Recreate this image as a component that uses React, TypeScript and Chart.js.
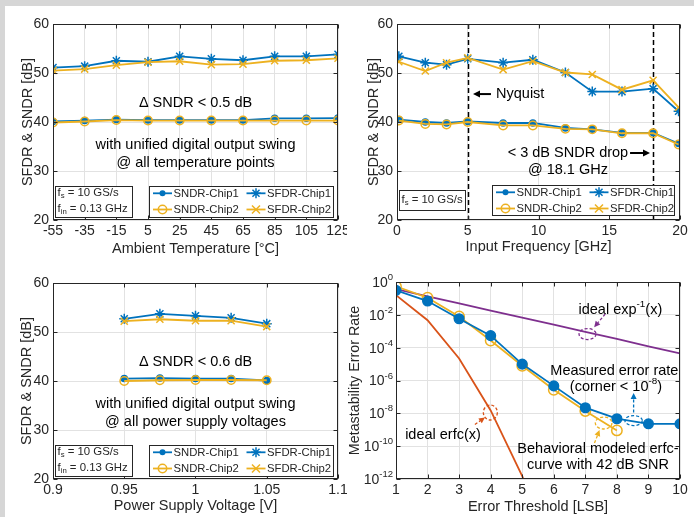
import React, { useEffect, useRef } from 'react';
import { Chart, registerables } from 'chart.js';

Chart.register(...registerables);

// ---------------- data ----------------
const SNR_TICKS = [20, 30, 40, 50, 60];

const TEMP_X = [-55, -35, -15, 5, 25, 45, 65, 85, 105, 125];
const TEMP_TICKS = [-55, -35, -15, 5, 25, 45, 65, 85, 105, 125];
const TEMP_SNDR_CHIP1 = [40.1, 40.3, 40.5, 40.4, 40.4, 40.4, 40.4, 40.75, 40.75, 40.8];
const TEMP_SFDR_CHIP1 = [51.1, 51.4, 52.5, 52.3, 53.4, 52.9, 52.6, 53.4, 53.4, 53.8];
const TEMP_SNDR_CHIP2 = [39.9, 40.1, 40.4, 40.3, 40.3, 40.3, 40.3, 40.3, 40.3, 40.3];
const TEMP_SFDR_CHIP2 = [50.5, 50.8, 51.6, 52.2, 52.4, 51.7, 51.8, 52.5, 52.6, 53.0];

const FREQ_X = [0.13, 2, 3.5, 5, 7.5, 9.6, 11.9, 13.8, 15.9, 18.1, 19.9];
const FREQ_TICKS = [0, 5, 10, 15, 20];
const FREQ_MARKERS = [5, 18.1];
const FREQ_SNDR_CHIP1 = [40.5, 40.0, 39.8, 40.1, 39.8, 39.8, 38.8, 38.5, 37.8, 37.8, 35.6];
const FREQ_SFDR_CHIP1 = [53.4, 52.1, 51.7, 52.9, 52.1, 52.7, 50.1, 46.2, 46.2, 46.8, 42.2];
const FREQ_SNDR_CHIP2 = [40.3, 39.6, 39.5, 40.0, 39.3, 39.3, 38.6, 38.5, 37.7, 37.7, 35.4];
const FREQ_SFDR_CHIP2 = [52.3, 50.4, 52.1, 53.1, 50.7, 52.4, 50.1, 49.7, 46.6, 48.5, 43.0];

const VDD_X = [0.95, 0.975, 1.0, 1.025, 1.05];
const VDD_TICKS = [0.9, 0.95, 1, 1.05, 1.1];
const VDD_SNDR_CHIP1 = [40.5, 40.6, 40.5, 40.5, 40.1];
const VDD_SFDR_CHIP1 = [52.7, 53.7, 53.3, 52.9, 51.7];
const VDD_SNDR_CHIP2 = [40.0, 40.15, 40.2, 40.2, 40.15];
const VDD_SFDR_CHIP2 = [52.2, 52.6, 52.3, 52.3, 51.1];

const LSB_X = [1, 2, 3, 4, 5, 6, 7, 8, 9, 10];
const LSB_TICKS = [1, 2, 3, 4, 5, 6, 7, 8, 9, 10];
const ERR_TICKS = [1e-12, 1e-10, 1e-8, 1e-6, 1e-4, 1e-2, 1];
const MEASURED_ERR = [0.31, 0.069, 5.8e-3, 5.4e-4, 1.0e-5, 4.7e-7, 2.2e-8, 4.7e-9, 2.3e-9, 2.3e-9];
const BEHAV_X = [1, 2, 3, 4, 5, 6, 7, 8];
const BEHAV_ERR = [0.54, 0.11, 7.9e-3, 2.7e-4, 7.9e-6, 2.7e-7, 1.4e-8, 9.1e-10];
const IDEAL_EXP_ERR = [0.368, 0.135, 0.0498, 0.0183, 6.7e-3, 2.5e-3, 9.1e-4, 3.4e-4, 1.2e-4, 4.5e-5];
const ERFC_X = [1, 2, 3, 4, 5, 6];
const IDEAL_ERFC_ERR = [0.157, 4.7e-3, 2.2e-5, 1.5e-8, 1.5e-12, 2.2e-17];

// ---------------- styles ----------------
const FONT = "'Liberation Sans', Arial, Helvetica, sans-serif";
const BLUE = '#0072BD';
const ORANGE = '#EDB120';
const PURPLE = '#7E2F8E';
const RED = '#D95319';
const AXIS = '#262626';
const GRID = '#e2e2e2';
const TXT = 14.5;

type Geo = { x: number; y: number; w: number; h: number; L: number; T: number; R: number; B: number };

const GEO1: Geo = { x: 6, y: 6, w: 341, h: 252, L: 53, T: 24, R: 338, B: 220 };
const GEO2: Geo = { x: 347, y: 6, w: 347, h: 252, L: 397, T: 24, R: 680, B: 220 };
const GEO3: Geo = { x: 6, y: 262, w: 341, h: 255, L: 53, T: 283, R: 338, B: 479 };
const GEO4: Geo = { x: 344, y: 262, w: 350, h: 255, L: 396, T: 282, R: 680, B: 479 };

type Seg = [string, number];

function rich(ctx: any, segs: Seg[], x: number, y: number, size: number, align: string, color = '#000') {
  ctx.save();
  ctx.fillStyle = color;
  ctx.textBaseline = 'middle';
  ctx.textAlign = 'left';
  const fontOf = (k: number) => `${k ? size * 0.68 : size}px ${FONT}`;
  const widths = segs.map(([t, k]) => {
    ctx.font = fontOf(k);
    return ctx.measureText(t).width;
  });
  const total = widths.reduce((a, b) => a + b, 0);
  let cx = align === 'center' ? x - total / 2 : align === 'right' ? x - total : x;
  segs.forEach(([t, k], i) => {
    ctx.font = fontOf(k);
    const dy = k === 1 ? -size * 0.4 : k === -1 ? size * 0.28 : 0;
    ctx.fillText(t, cx, y + dy);
    cx += widths[i];
  });
  ctx.restore();
}

function arrow(ctx: any, x1: number, y1: number, x2: number, y2: number, color: string, lw: number, dashed: boolean, head = 7, hw = 3.5) {
  const ang = Math.atan2(y2 - y1, x2 - x1);
  const bx = x2 - Math.cos(ang) * head;
  const by = y2 - Math.sin(ang) * head;
  ctx.save();
  ctx.strokeStyle = color;
  ctx.fillStyle = color;
  ctx.lineWidth = lw;
  if (dashed) ctx.setLineDash([3, 2]);
  ctx.beginPath();
  ctx.moveTo(x1, y1);
  ctx.lineTo(bx, by);
  ctx.stroke();
  ctx.setLineDash([]);
  ctx.beginPath();
  ctx.moveTo(x2, y2);
  ctx.lineTo(bx + Math.sin(ang) * hw, by - Math.cos(ang) * hw);
  ctx.lineTo(bx - Math.sin(ang) * hw, by + Math.cos(ang) * hw);
  ctx.closePath();
  ctx.fill();
  ctx.restore();
}

function dashedEllipse(ctx: any, cx: number, cy: number, rx: number, ry: number, color: string) {
  ctx.save();
  ctx.strokeStyle = color;
  ctx.lineWidth = 1.3;
  ctx.setLineDash([3, 2]);
  ctx.beginPath();
  ctx.ellipse(cx, cy, rx, ry, 0, 0, Math.PI * 2);
  ctx.stroke();
  ctx.restore();
}

function marker(ctx: any, kind: string, x: number, y: number, r: number, color: string) {
  ctx.save();
  ctx.strokeStyle = color;
  ctx.fillStyle = color;
  ctx.lineWidth = 1.5;
  ctx.beginPath();
  if (kind === 'dot') {
    ctx.arc(x, y, r, 0, Math.PI * 2);
    ctx.fill();
  } else if (kind === 'ring') {
    ctx.arc(x, y, r, 0, Math.PI * 2);
    ctx.stroke();
  } else if (kind === 'star') {
    for (let i = 0; i < 4; i++) {
      const a = (i * Math.PI) / 4;
      ctx.moveTo(x - Math.cos(a) * r, y - Math.sin(a) * r);
      ctx.lineTo(x + Math.cos(a) * r, y + Math.sin(a) * r);
    }
    ctx.stroke();
  } else {
    const d = r * 0.8;
    ctx.moveTo(x - d, y - d);
    ctx.lineTo(x + d, y + d);
    ctx.moveTo(x - d, y + d);
    ctx.lineTo(x + d, y - d);
    ctx.stroke();
  }
  ctx.restore();
}

function series(label: string, xs: number[], ys: number[], color: string, kind: string, r: number, order: number) {
  const pointStyle = kind === 'star' ? 'star' : kind === 'x' ? 'crossRot' : kind === 'none' ? 'circle' : 'circle';
  return {
    label,
    data: xs.map((x, i) => ({ x, y: ys[i] })),
    borderColor: color,
    borderWidth: 1.8,
    pointStyle,
    pointRadius: kind === 'none' ? 0 : r,
    pointBorderWidth: 1.5,
    pointBorderColor: color,
    pointBackgroundColor: kind === 'dot' ? color : 'rgba(0,0,0,0)',
    fill: false,
    tension: 0,
    order,
  };
}

function axis(geo: Geo, horizontal: boolean, ticksArr: number[], min: number, max: number, title: string, titlePad: number, opts: any = {}) {
  const size = horizontal ? geo.y + geo.h - geo.B : geo.L - geo.x;
  return {
    type: opts.type || 'linear',
    position: horizontal ? 'bottom' : 'left',
    min,
    max,
    afterBuildTicks: (s: any) => {
      s.ticks = ticksArr.map((v) => ({ value: v }));
    },
    afterFit: (s: any) => {
      if (horizontal) s.height = size;
      else s.width = size;
      s.paddingLeft = 0;
      s.paddingRight = 0;
      s.paddingTop = 0;
      s.paddingBottom = 0;
    },
    grid: { color: GRID, lineWidth: 1, drawTicks: false },
    border: { display: false },
    ticks: {
      display: opts.hideLabels ? false : true,
      color: AXIS,
      font: { family: FONT, size: 14 },
      padding: horizontal ? 3 : 4,
      autoSkip: false,
      maxRotation: 0,
      callback: (v: any) => String(Number(Number(v).toFixed(3))),
    },
    title: {
      display: true,
      text: title,
      color: AXIS,
      font: { family: FONT, size: opts.titleSize || TXT },
      padding: horizontal ? { top: 0, bottom: titlePad } : { top: titlePad, bottom: 0 },
    },
  };
}

function drawFrame(chart: any, xTicks: number[], yTicks: number[]) {
  const { ctx, chartArea: a, scales } = chart;
  const l = Math.round(a.left) + 0.5, t = Math.round(a.top) + 0.5;
  const r = Math.round(a.right) - 0.5, b = Math.round(a.bottom) - 0.5;
  ctx.save();
  ctx.strokeStyle = AXIS;
  ctx.lineWidth = 1;
  ctx.beginPath();
  xTicks.forEach((v) => {
    const px = Math.round(scales.x.getPixelForValue(v)) + 0.5;
    ctx.moveTo(px, b); ctx.lineTo(px, b - 4);
    ctx.moveTo(px, t); ctx.lineTo(px, t + 4);
  });
  yTicks.forEach((v) => {
    const py = Math.round(scales.y.getPixelForValue(v)) + 0.5;
    ctx.moveTo(l, py); ctx.lineTo(l + 4, py);
    ctx.moveTo(r, py); ctx.lineTo(r - 4, py);
  });
  ctx.stroke();
  ctx.strokeRect(l, t, r - l, b - t);
  ctx.restore();
}

function box(ctx: any, x: number, y: number, w: number, h: number) {
  ctx.save();
  ctx.fillStyle = '#fff';
  ctx.fillRect(x, y, w, h);
  ctx.strokeStyle = AXIS;
  ctx.lineWidth = 1;
  ctx.strokeRect(Math.round(x) + 0.5, Math.round(y) + 0.5, Math.round(w), Math.round(h));
  ctx.restore();
}

const LEGEND_KINDS = [
  { label: 'SNDR-Chip1', color: BLUE, kind: 'dot', r: 3, col: 0, row: 0 },
  { label: 'SFDR-Chip1', color: BLUE, kind: 'star', r: 5, col: 1, row: 0 },
  { label: 'SNDR-Chip2', color: ORANGE, kind: 'ring', r: 4.2, col: 0, row: 1 },
  { label: 'SFDR-Chip2', color: ORANGE, kind: 'x', r: 5, col: 1, row: 1 },
];

function drawLegend(ctx: any, bx: number, by: number, bw: number, bh: number) {
  box(ctx, bx, by, bw, bh);
  const colX = [4, 97.5];
  const rowY = [7.3, 23.5];
  LEGEND_KINDS.forEach((e) => {
    const x0 = bx + colX[e.col];
    const y0 = by + rowY[e.row];
    ctx.save();
    ctx.strokeStyle = e.color;
    ctx.lineWidth = 1.8;
    ctx.beginPath();
    ctx.moveTo(x0, y0);
    ctx.lineTo(x0 + 19, y0);
    ctx.stroke();
    ctx.restore();
    marker(ctx, e.kind, x0 + 9.5, y0, e.r, e.color);
    rich(ctx, [[e.label, 0]], x0 + 20.5, y0 + 0.5, 11.3, 'left', AXIS);
  });
}

function snrDatasets(xs: number[], s1: number[], f1: number[], s2: number[], f2: number[]) {
  return [
    series('SNDR-Chip1', xs, s1, BLUE, 'dot', 3, 2),
    series('SFDR-Chip1', xs, f1, BLUE, 'star', 5, 2),
    series('SNDR-Chip2', xs, s2, ORANGE, 'ring', 4.2, 1),
    series('SFDR-Chip2', xs, f2, ORANGE, 'x', 5, 1),
  ];
}

function baseOptions(geo: Geo, scales: any) {
  return {
    responsive: false,
    maintainAspectRatio: false,
    animation: false,
    devicePixelRatio: 1,
    events: [],
    layout: { padding: { top: geo.T - geo.y, right: geo.x + geo.w - geo.R, left: 0, bottom: 0 } },
    plugins: { legend: { display: false }, tooltip: { enabled: false } },
    scales,
  };
}

function buildTemp(geo: Geo) {
  return {
    type: 'line',
    data: { datasets: snrDatasets(TEMP_X, TEMP_SNDR_CHIP1, TEMP_SFDR_CHIP1, TEMP_SNDR_CHIP2, TEMP_SFDR_CHIP2) },
    options: baseOptions(geo, {
      x: axis(geo, true, TEMP_TICKS, -55, 125, 'Ambient Temperature [°C]', 0.3),
      y: axis(geo, false, SNR_TICKS, 20, 60, 'SFDR & SNDR [dB]', 13.3),
    }),
    plugins: [
      {
        id: 'deco1',
        afterDatasetsDraw(chart: any) {
          const { ctx, chartArea: a, scales } = chart;
          drawFrame(chart, TEMP_TICKS, SNR_TICKS);
          const cx = (a.left + a.right) / 2;
          rich(ctx, [['Δ SNDR < 0.5 dB', 0]], cx, scales.y.getPixelForValue(43.9), TXT, 'center');
          rich(ctx, [['with unified digital output swing', 0]], cx, scales.y.getPixelForValue(35.3), TXT, 'center');
          rich(ctx, [['@ all temperature points', 0]], cx, scales.y.getPixelForValue(31.6), TXT, 'center');
          box(ctx, a.left + 2, a.bottom - 34, 77, 31);
          rich(ctx, [['f', 0], ['s', -1], [' = 10 GS/s', 0]], a.left + 4.5, a.bottom - 27, 11.4, 'left', AXIS);
          rich(ctx, [['f', 0], ['in', -1], [' = 0.13 GHz', 0]], a.left + 4.5, a.bottom - 11, 11.4, 'left', AXIS);
          drawLegend(ctx, a.left + 96, a.bottom - 34, 184, 31);
        },
      },
    ],
  };
}

function buildFreq(geo: Geo) {
  return {
    type: 'line',
    data: { datasets: snrDatasets(FREQ_X, FREQ_SNDR_CHIP1, FREQ_SFDR_CHIP1, FREQ_SNDR_CHIP2, FREQ_SFDR_CHIP2) },
    options: baseOptions(geo, {
      x: axis(geo, true, FREQ_TICKS, 0, 20, 'Input Frequency [GHz]', 2.3),
      y: axis(geo, false, SNR_TICKS, 20, 60, 'SFDR & SNDR [dB]', 18.3),
    }),
    plugins: [
      {
        id: 'deco2',
        beforeDatasetsDraw(chart: any) {
          const { ctx, chartArea: a, scales } = chart;
          FREQ_MARKERS.forEach((v) => {
            const px = Math.round(scales.x.getPixelForValue(v)) + 0.5;
            ctx.save();
            ctx.strokeStyle = '#000';
            ctx.lineWidth = 1.5;
            ctx.setLineDash([5, 3]);
            ctx.beginPath();
            ctx.moveTo(px, a.top);
            ctx.lineTo(px, a.bottom);
            ctx.stroke();
            ctx.restore();
          });
        },
        afterDatasetsDraw(chart: any) {
          const { ctx, chartArea: a, scales } = chart;
          const X = (v: number) => scales.x.getPixelForValue(v);
          const Y = (v: number) => scales.y.getPixelForValue(v);
          drawFrame(chart, FREQ_TICKS, SNR_TICKS);
          arrow(ctx, X(6.64), Y(45.7), X(5.37), Y(45.7), '#000', 2, false, 7, 3.5);
          rich(ctx, [['Nyquist', 0]], X(7.0), Y(45.7), TXT, 'left');
          rich(ctx, [['< 3 dB SNDR drop', 0]], X(12.08), Y(33.67), TXT, 'center');
          arrow(ctx, X(16.47), Y(33.67), X(17.88), Y(33.67), '#000', 2, false, 7, 3.5);
          rich(ctx, [['@ 18.1 GHz', 0]], X(12.08), Y(30.2), TXT, 'center');
          box(ctx, a.left + 2, a.bottom - 30, 66, 20);
          rich(ctx, [['f', 0], ['s', -1], [' = 10 GS/s', 0]], a.left + 4.5, a.bottom - 20.5, 11.4, 'left', AXIS);
          drawLegend(ctx, a.right - 188, a.bottom - 35, 182, 30);
        },
      },
    ],
  };
}

function buildVdd(geo: Geo) {
  return {
    type: 'line',
    data: { datasets: snrDatasets(VDD_X, VDD_SNDR_CHIP1, VDD_SFDR_CHIP1, VDD_SNDR_CHIP2, VDD_SFDR_CHIP2) },
    options: baseOptions(geo, {
      x: axis(geo, true, VDD_TICKS, 0.9, 1.1, 'Power Supply Voltage [V]', 2.3),
      y: axis(geo, false, SNR_TICKS, 20, 60, 'SFDR & SNDR [dB]', 12.3),
    }),
    plugins: [
      {
        id: 'deco3',
        afterDatasetsDraw(chart: any) {
          const { ctx, chartArea: a, scales } = chart;
          drawFrame(chart, VDD_TICKS, SNR_TICKS);
          const cx = (a.left + a.right) / 2;
          rich(ctx, [['Δ SNDR < 0.6 dB', 0]], cx, scales.y.getPixelForValue(43.9), TXT, 'center');
          rich(ctx, [['with unified digital output swing', 0]], cx, scales.y.getPixelForValue(35.3), TXT, 'center');
          rich(ctx, [['@ all power supply voltages', 0]], cx, scales.y.getPixelForValue(31.6), TXT, 'center');
          box(ctx, a.left + 2, a.bottom - 34, 77, 31);
          rich(ctx, [['f', 0], ['s', -1], [' = 10 GS/s', 0]], a.left + 4.5, a.bottom - 27, 11.4, 'left', AXIS);
          rich(ctx, [['f', 0], ['in', -1], [' = 0.13 GHz', 0]], a.left + 4.5, a.bottom - 11, 11.4, 'left', AXIS);
          drawLegend(ctx, a.left + 96, a.bottom - 34, 184, 31);
        },
      },
    ],
  };
}

function buildErr(geo: Geo) {
  return {
    type: 'line',
    data: {
      datasets: [
        series('Measured error rate', LSB_X, MEASURED_ERR, BLUE, 'dot', 4.8, 1),
        series('Behavioral modeled erfc', BEHAV_X, BEHAV_ERR, ORANGE, 'ring', 5.2, 2),
        series('ideal exp^-1(x)', LSB_X, IDEAL_EXP_ERR, PURPLE, 'none', 0, 3),
        series('ideal erfc(x)', ERFC_X, IDEAL_ERFC_ERR, RED, 'none', 0, 4),
      ],
    },
    options: baseOptions(geo, {
      x: axis(geo, true, LSB_TICKS, 1, 10, 'Error Threshold [LSB]', 1.3),
      y: axis(geo, false, ERR_TICKS, 1e-12, 1, 'Metastability Error Rate', 2, { type: 'logarithmic', hideLabels: true, titleSize: 14.3 }),
    }),
    plugins: [
      {
        id: 'deco4',
        afterDatasetsDraw(chart: any) {
          const { ctx, chartArea: a, scales } = chart;
          const X = (v: number) => scales.x.getPixelForValue(v);
          const Y = (lg: number) => scales.y.getPixelForValue(Math.pow(10, lg));
          drawFrame(chart, LSB_TICKS, ERR_TICKS);
          ERR_TICKS.forEach((v) => {
            const e = Math.round(Math.log10(v));
            rich(ctx, [['10', 0], [String(e), 1]], a.left - 3, scales.y.getPixelForValue(v) + 1, 14, 'right', AXIS);
          });
          // ideal exp
          rich(ctx, [['ideal exp', 0], ['-1', 1], ['(x)', 0]], X(8.11), Y(-1.7), TXT, 'center');
          dashedEllipse(ctx, X(7.07), Y(-3.17), 8.5, 5.5, PURPLE);
          arrow(ctx, X(7.63), Y(-1.95), X(7.28), Y(-2.76), PURPLE, 1.3, true, 6, 3);
          // measured
          rich(ctx, [['Measured error rate', 0]], X(7.92), Y(-5.42), TXT, 'center');
          rich(ctx, [['(corner < 10', 0], ['-8', 1], [')', 0]], X(7.97), Y(-6.4), TXT, 'center');
          dashedEllipse(ctx, X(8.53), Y(-8.44), 8.7, 5, BLUE);
          arrow(ctx, X(8.53), Y(-7.95), X(8.53), Y(-6.76), BLUE, 1.3, true, 6, 3);
          // ideal erfc
          rich(ctx, [['ideal erfc(x)', 0]], X(2.49), Y(-9.3), TXT, 'center');
          dashedEllipse(ctx, X(3.99), Y(-7.95), 7, 7.5, RED);
          arrow(ctx, X(3.5), Y(-8.68), X(3.82), Y(-8.25), RED, 1.3, true, 6, 3);
          // behavioral
          rich(ctx, [['Behavioral modeled erfc-', 0]], X(7.4), Y(-10.15), TXT, 'center');
          rich(ctx, [['curve with 42 dB SNR', 0]], X(7.4), Y(-11.17), TXT, 'center');
          dashedEllipse(ctx, X(7.58), Y(-8.59), 8.3, 6, ORANGE);
          arrow(ctx, X(7.29), Y(-9.81), X(7.45), Y(-9.02), ORANGE, 1.3, true, 6, 3);
        },
      },
    ],
  };
}

function ChartCanvas({ geo, build }: { geo: Geo; build: (g: Geo) => any }) {
  const ref = useRef<HTMLCanvasElement>(null);
  useEffect(() => {
    const chart = new Chart(ref.current as any, build(geo) as any);
    return () => chart.destroy();
  }, []);
  return (
    <canvas
      ref={ref}
      width={geo.w}
      height={geo.h}
      style={{ position: 'absolute', left: geo.x, top: geo.y, width: geo.w, height: geo.h }}
    />
  );
}

export default function App() {
  return (
    <div style={{ position: 'absolute', left: 0, top: 0, width: 694, height: 517, background: '#fff', overflow: 'hidden' }}>
      <div style={{ position: 'absolute', left: 0, top: 0, width: 694, height: 6, background: '#d6d6d6' }} />
      <div style={{ position: 'absolute', left: 0, top: 0, width: 5, height: 517, background: '#d6d6d6' }} />
      <ChartCanvas geo={GEO1} build={buildTemp} />
      <ChartCanvas geo={GEO2} build={buildFreq} />
      <ChartCanvas geo={GEO3} build={buildVdd} />
      <ChartCanvas geo={GEO4} build={buildErr} />
    </div>
  );
}
